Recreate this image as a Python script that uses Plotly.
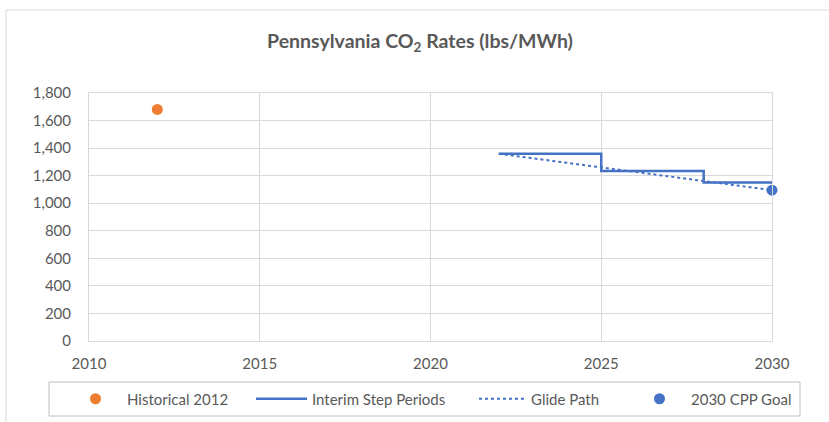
import plotly.graph_objects as go

# ---- data ----
hist_year = [2012]
hist_rate = [1681]

step_years = [2022, 2025, 2028, 2030]
step_rates = [1359, 1234, 1150, 1150]

glide_years = [2022, 2030]
glide_rates = [1359, 1095]

goal_year = [2030]
goal_rate = [1095]

x_ticks = [2010, 2015, 2020, 2025, 2030]
y_ticks = [0, 200, 400, 600, 800, 1000, 1200, 1400, 1600, 1800]

FONT = "Lato"
GREY = "#595959"
ORANGE = "#ED7D31"
BLUE = "#4472C4"
GRID = "#D9D9D9"

W, H = 829, 422
L, R, T, B = 89, 57, 93, 81
PW, PH = W - L - R, H - T - B

def px_x(p):
    return (p - L) / PW

def px_y(p):
    return (H - B - p) / PH

fig = go.Figure()
fig.add_trace(go.Scatter(x=hist_year, y=hist_rate, mode="markers", name="Historical 2012",
                         marker=dict(color=ORANGE, size=11), cliponaxis=False, legend="legend"))
fig.add_trace(go.Scatter(x=step_years, y=step_rates, mode="lines", name="Interim Step Periods",
                         line=dict(color=BLUE, width=2.5, shape="hv"), legend="legend2"))
fig.add_trace(go.Scatter(x=glide_years, y=glide_rates, mode="lines", name="Glide Path",
                         line=dict(color=BLUE, width=2, dash="dot"), legend="legend3"))
fig.add_trace(go.Scatter(x=goal_year, y=goal_rate, mode="markers", name="2030 CPP Goal",
                         marker=dict(color=BLUE, size=11), cliponaxis=False, legend="legend4"))

leg_common = dict(orientation="h", yanchor="middle", xanchor="left", y=px_y(399),
                  bgcolor="rgba(0,0,0,0)", borderwidth=0,
                  font=dict(family=FONT, size=15, color=GREY))

fig.update_layout(
    width=W, height=H,
    margin=dict(l=L, r=R, t=T, b=B, autoexpand=False),
    paper_bgcolor="white", plot_bgcolor="white",
    font=dict(family=FONT, color=GREY, size=15),
    title=dict(text="<b>Pennsylvania CO<sub>2</sub> Rates (lbs/MWh)</b>",
               x=420 / W, xanchor="center", xref="container",
               y=1 - 41 / H, yanchor="middle", yref="container",
               font=dict(family=FONT, size=19.5, color=GREY)),
    xaxis=dict(range=[2010, 2030], tickvals=x_ticks, showgrid=True, gridcolor=GRID,
               showline=True, linecolor=GRID, mirror=True, zeroline=False,
               ticks="", ticklabelstandoff=9, tickfont=dict(family=FONT, size=15, color=GREY)),
    yaxis=dict(range=[0, 1800], tickvals=y_ticks, tickformat=",d", showgrid=True, gridcolor=GRID,
               showline=True, linecolor=GRID, mirror=True, zeroline=False,
               ticks="", ticklabelstandoff=14, tickfont=dict(family=FONT, size=15, color=GREY)),
    legend=dict(x=px_x(64), itemwidth=53, **leg_common),
    legend2=dict(x=px_x(251), itemwidth=51, **leg_common),
    legend3=dict(x=px_x(474), itemwidth=47, **leg_common),
    legend4=dict(x=px_x(628), itemwidth=53, **leg_common),
    showlegend=True,
    shapes=[
        dict(type="rect", xref="paper", yref="paper", x0=px_x(49), x1=px_x(800),
             y0=px_y(416), y1=px_y(382), line=dict(color="#BFBFBF", width=1), layer="below"),
        dict(type="rect", xref="paper", yref="paper", x0=px_x(6), x1=px_x(900),
             y0=px_y(500), y1=px_y(10), line=dict(color=GRID, width=1), layer="below"),
    ],
)

fig.write_html("out.html", config={"displayModeBar": False},
               post_script="document.body.style.margin='0';")
